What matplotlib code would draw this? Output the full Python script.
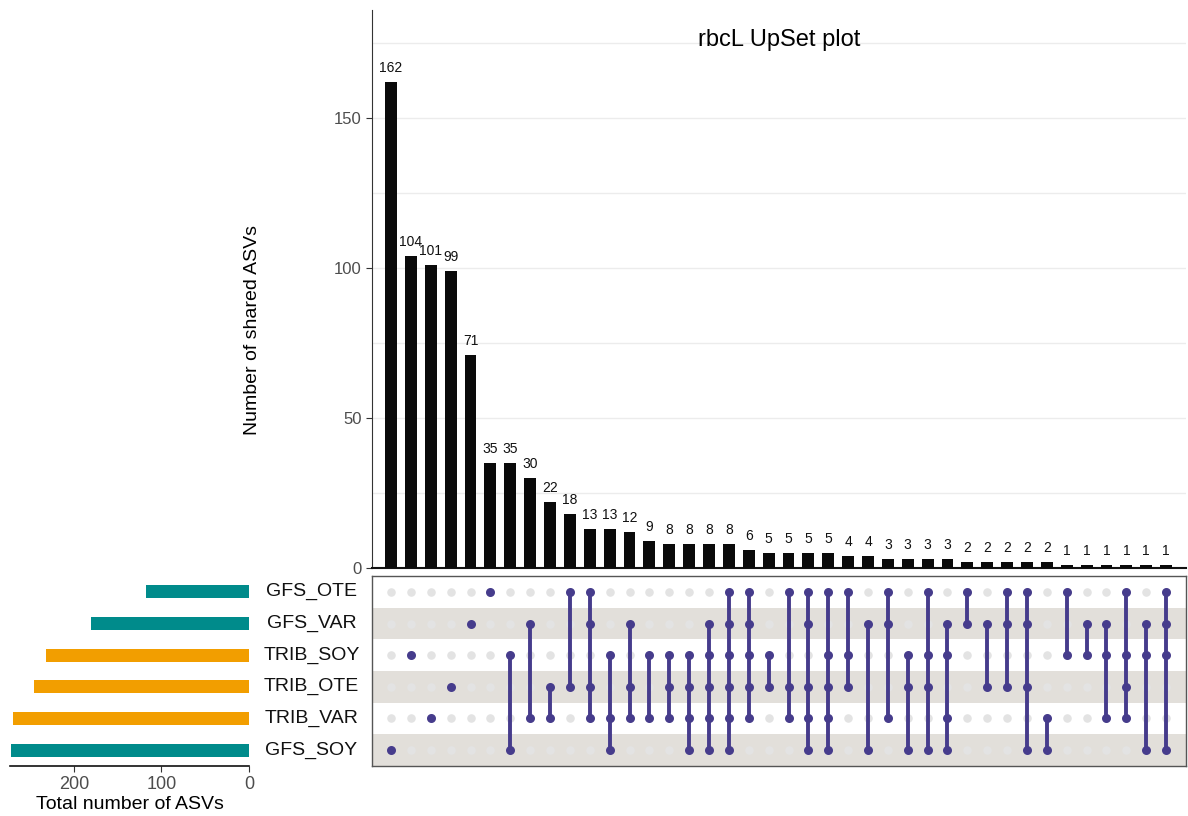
import matplotlib
matplotlib.use("Agg")
import matplotlib.pyplot as plt
import matplotlib.transforms as mtransforms
import numpy as np

plt.rcParams['font.family'] = ['Liberation Sans', 'DejaVu Sans']

# sets, listed top to bottom as in the matrix
set_names = ["GFS_OTE", "GFS_VAR", "TRIB_SOY", "TRIB_OTE", "TRIB_VAR", "GFS_SOY"]
set_sizes = [118, 181, 232, 245, 269, 272]
set_colors = ["#008b8b", "#008b8b", "#f29e00", "#f29e00", "#f29e00", "#008b8b"]

# intersection sizes, sorted as in the chart
inter_sizes = [162, 104, 101, 99, 71, 35, 35, 30, 22, 18, 13, 13, 12, 9, 8, 8, 8, 8, 6,
               5, 5, 5, 5, 4, 4, 3, 3, 3, 3, 2, 2, 2, 2, 2, 1, 1, 1, 1, 1, 1]

# members of each intersection
inter_sets = [
    ["GFS_SOY"],
    ["TRIB_SOY"],
    ["TRIB_VAR"],
    ["TRIB_OTE"],
    ["GFS_VAR"],
    ["GFS_OTE"],
    ["TRIB_SOY", "GFS_SOY"],
    ["GFS_VAR", "TRIB_VAR"],
    ["TRIB_OTE", "TRIB_VAR"],
    ["GFS_OTE", "TRIB_OTE"],
    ["GFS_OTE", "GFS_VAR", "TRIB_OTE", "TRIB_VAR"],
    ["TRIB_SOY", "TRIB_VAR", "GFS_SOY"],
    ["GFS_VAR", "TRIB_OTE", "TRIB_VAR"],
    ["TRIB_SOY", "TRIB_VAR"],
    ["TRIB_SOY", "TRIB_OTE", "TRIB_VAR"],
    ["TRIB_SOY", "TRIB_OTE", "TRIB_VAR", "GFS_SOY"],
    ["GFS_VAR", "TRIB_SOY", "TRIB_OTE", "TRIB_VAR", "GFS_SOY"],
    ["GFS_OTE", "GFS_VAR", "TRIB_SOY", "TRIB_OTE", "TRIB_VAR", "GFS_SOY"],
    ["GFS_OTE", "GFS_VAR", "TRIB_SOY", "TRIB_OTE", "TRIB_VAR"],
    ["TRIB_SOY", "TRIB_OTE"],
    ["GFS_OTE", "TRIB_OTE", "TRIB_VAR"],
    ["GFS_OTE", "GFS_VAR", "TRIB_OTE", "TRIB_VAR", "GFS_SOY"],
    ["GFS_OTE", "TRIB_SOY", "TRIB_OTE", "TRIB_VAR", "GFS_SOY"],
    ["GFS_OTE", "TRIB_SOY", "TRIB_OTE"],
    ["GFS_VAR", "GFS_SOY"],
    ["GFS_OTE", "GFS_VAR", "TRIB_VAR"],
    ["TRIB_SOY", "TRIB_OTE", "GFS_SOY"],
    ["GFS_OTE", "TRIB_SOY", "TRIB_OTE", "GFS_SOY"],
    ["GFS_VAR", "TRIB_SOY", "TRIB_VAR", "GFS_SOY"],
    ["GFS_OTE", "GFS_VAR"],
    ["GFS_VAR", "TRIB_OTE"],
    ["GFS_OTE", "GFS_VAR", "TRIB_OTE"],
    ["GFS_OTE", "GFS_VAR", "TRIB_OTE", "GFS_SOY"],
    ["TRIB_VAR", "GFS_SOY"],
    ["GFS_OTE", "TRIB_SOY"],
    ["GFS_VAR", "TRIB_SOY"],
    ["GFS_VAR", "TRIB_SOY", "TRIB_VAR"],
    ["GFS_OTE", "TRIB_SOY", "TRIB_OTE", "TRIB_VAR"],
    ["GFS_VAR", "TRIB_SOY", "GFS_SOY"],
    ["GFS_OTE", "GFS_VAR", "TRIB_SOY", "GFS_SOY"],
]

dot_color = "#463c8c"
grey_dot = "#e3e3e3"
band_color = "#e2dfda"
tick_grey = "#4d4d4d"

n_sets = len(set_names)
n_inter = len(inter_sizes)
xs = np.arange(n_inter)
row_y = {name: n_sets - 1 - i for i, name in enumerate(set_names)}
xlim = (-0.96, n_inter - 0.0)

fig = plt.figure(figsize=(11.88, 8.16), dpi=100)
ax_bar = fig.add_axes([0.3131, 0.3039, 0.6852, 0.6838])
ax_mat = fig.add_axes([0.3131, 0.0613, 0.6852, 0.2328])
ax_set = fig.add_axes([0.0084, 0.0613, 0.2012, 0.2328])

# intersection bars
ax_bar.bar(xs, inter_sizes, width=0.6, color="#0a0a0a", zorder=3)
for x, v in zip(xs, inter_sizes):
    ax_bar.annotate(str(v), (x, v), xytext=(0, 5), textcoords="offset points",
                    ha="center", va="bottom", fontsize=10, color="#111111")
ax_bar.set_xlim(*xlim)
ax_bar.set_ylim(0, 186)
ax_bar.set_yticks([0, 50, 100, 150])
ax_bar.set_yticks([25, 75, 125, 175], minor=True)
ax_bar.grid(axis="y", which="both", color="#ececec", linewidth=1, zorder=0)
ax_bar.set_xticks([])
for s in ["top", "right"]:
    ax_bar.spines[s].set_visible(False)
ax_bar.spines["left"].set_color("#333333")
ax_bar.spines["left"].set_linewidth(0.8)
ax_bar.spines["bottom"].set_color("#111111")
ax_bar.spines["bottom"].set_linewidth(1.5)
ax_bar.tick_params(axis="y", which="major", labelsize=12, labelcolor=tick_grey,
                   color="#333333", length=4)
ax_bar.tick_params(axis="y", which="minor", length=0)
ax_bar.set_ylabel("Number of shared ASVs", fontsize=14)
ax_bar.yaxis.set_label_coords(-0.136, 0.426)
ax_bar.text(0.5, 0.946, "rbcL UpSet plot", transform=ax_bar.transAxes,
            ha="center", va="center", fontsize=17)

# matrix
for name in set_names:
    y = row_y[name]
    if name in ("GFS_VAR", "TRIB_OTE", "GFS_SOY"):
        ax_mat.axhspan(y - 0.5, y + 0.5, color=band_color, zorder=0, lw=0)
gx, gy = np.meshgrid(xs, np.arange(n_sets))
ax_mat.scatter(gx.ravel(), gy.ravel(), s=38, color=grey_dot, zorder=1, lw=0)
for x, members in zip(xs, inter_sets):
    ys = [row_y[m] for m in members]
    if len(ys) > 1:
        ax_mat.plot([x, x], [min(ys), max(ys)], color=dot_color, lw=2.8,
                    zorder=2, solid_capstyle="butt")
    ax_mat.scatter([x] * len(ys), ys, s=42, color=dot_color, zorder=3, lw=0)
ax_mat.set_xlim(*xlim)
ax_mat.set_ylim(-0.5, n_sets - 0.5)
ax_mat.set_xticks([])
ax_mat.set_yticks([])
for s in ax_mat.spines.values():
    s.set_color("#555555")
    s.set_linewidth(1.0)
trans = mtransforms.blended_transform_factory(ax_mat.transAxes, ax_mat.transData)
for name in set_names:
    ax_mat.text(-0.0745, row_y[name], name, transform=trans, ha="center",
                va="center", fontsize=14, color="#111111")

# set sizes
ax_set.barh([row_y[n] for n in set_names], set_sizes, height=0.42,
            color=set_colors, zorder=2)
ax_set.set_xlim(273, 0)
ax_set.set_ylim(-0.5, n_sets - 0.5)
ax_set.set_yticks([])
ax_set.set_xticks([0, 100, 200])
for s in ["top", "right", "left"]:
    ax_set.spines[s].set_visible(False)
ax_set.spines["bottom"].set_color("#111111")
ax_set.spines["bottom"].set_linewidth(1.2)
ax_set.tick_params(axis="x", labelsize=13, labelcolor=tick_grey, color="#333333", length=4)
ax_set.set_xlabel("Total number of ASVs", fontsize=14, labelpad=2)

fig.savefig("out.png", dpi=100)
